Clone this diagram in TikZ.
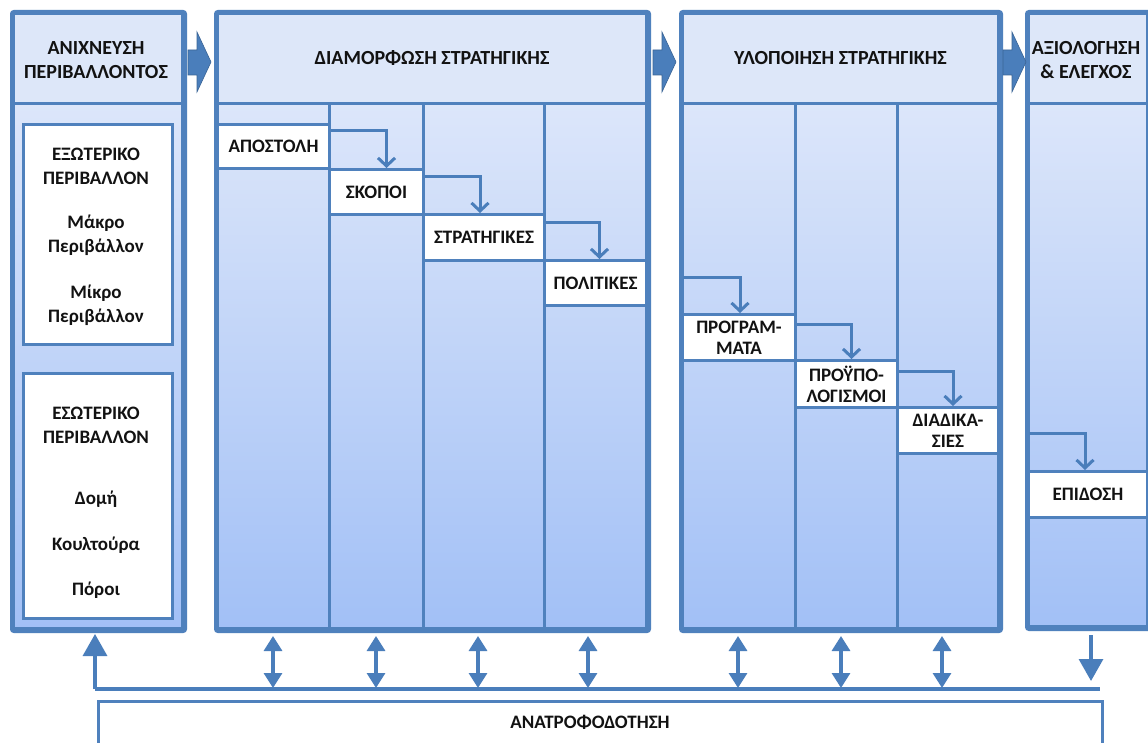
\documentclass[tikz,border=0pt]{standalone}
\usepackage{fontspec}
\setmainfont{Carlito}
\usetikzlibrary{arrows.meta,calc,shadows}
\definecolor{bord}{HTML}{4F81BD}
\definecolor{arr}{HTML}{4A7EBB}
\definecolor{hdr}{HTML}{DDE7F9}
\definecolor{topb}{HTML}{DCE6FA}
\definecolor{botb}{HTML}{A2C0F6}
\definecolor{txt}{HTML}{121212}
\begin{document}
\begin{tikzpicture}[x=1pt,y=-1pt,
  font=\fontsize{19}{24}\selectfont\bfseries, text=txt,
  hfont/.style={font=\fontsize{20}{24}\selectfont\bfseries},
  frame/.style={draw=bord, line width=4pt, rounded corners=2pt, fill=white,
    drop shadow={shadow xshift=1.5pt,shadow yshift=-2.5pt,opacity=0.3},
    anchor=north west, inner sep=0pt},
  hdrbox/.style={draw=bord, line width=3pt, fill=hdr, anchor=north west, inner sep=0pt, align=center, hfont},
  sub/.style={draw=bord, line width=3pt, top color=topb, bottom color=botb, anchor=north west, inner sep=0pt},
  box/.style={draw=bord, line width=3pt, fill=white, anchor=north west, inner sep=0pt, align=center},
  elbow/.style={draw=arr, line width=3pt, -{Straight Barb[length=8pt,width=17pt,line width=3pt]}},
  dbl/.style={draw=arr, line width=3.2pt, {Triangle[length=15pt,width=18pt]}-{Triangle[length=15pt,width=18pt]}},
  single/.style={draw=arr, line width=3.2pt, -{Triangle[length=22pt,width=24pt]}},
  blockarrow/.style={fill=arr, draw=arr!80!black, line width=0.6pt},
  outline/.style={draw=bord, line width=4pt, rounded corners=2pt}
]
\clip (0,0) rectangle (1148,743);
\useasboundingbox (0,0) rectangle (1148,743);
\fill[white] (0,0) rectangle (1148,743);

% ---------- column 1 ----------
\node[frame, minimum width=169pt, minimum height=615pt] (col1) at (12,12) {};
\node[sub, minimum width=169pt, minimum height=525pt] (c1body) at (12,102) {};
\node[hdrbox, minimum width=169pt, minimum height=90pt] (h1) at (12,12) {};
\node[hfont, align=center] (h1t) at (96,60) {ΑΝΙΧΝΕΥΣΗ\\ΠΕΡΙΒΑΛΛΟΝΤΟΣ};
\node[box, minimum width=149pt, minimum height=220pt] (ext) at (22,123) {};
\node[box, minimum width=149pt, minimum height=245pt] (int) at (22,372) {};
\node[align=center] (ext1) at (96,166) {ΕΞΩΤΕΡΙΚΟ\\ΠΕΡΙΒΑΛΛΟΝ};
\node[align=center] (ext2) at (96,235) {Μάκρο\\Περιβάλλον};
\node[align=center] (ext3) at (96,305) {Μίκρο\\Περιβάλλον};
\node[align=center] (int1) at (96,425) {ΕΣΩΤΕΡΙΚΟ\\ΠΕΡΙΒΑΛΛΟΝ};
\node (int2) at (96,499) {Δομή};
\node (int3) at (96,545) {Κουλτούρα};
\node (int4) at (96,590) {Πόροι};
\draw[outline] (col1.north west) rectangle (col1.south east);

% ---------- column 2 ----------
\node[frame, minimum width=429pt, minimum height=615pt] (col2) at (216,12) {};
\node[sub, minimum width=112pt, minimum height=525pt] (c2a) at (216,102) {};
\node[sub, minimum width=94pt, minimum height=525pt] (c2b) at (328,102) {};
\node[sub, minimum width=121pt, minimum height=525pt] (c2c) at (422,102) {};
\node[sub, minimum width=102pt, minimum height=525pt] (c2d) at (543,102) {};
\node[hdrbox, minimum width=429pt, minimum height=90pt] (h2) at (216,12) {ΔΙΑΜΟΡΦΩΣΗ ΣΤΡΑΤΗΓΙΚΗΣ};
\node[box, minimum width=112pt, minimum height=44pt] (apo) at (216,123) {ΑΠΟΣΤΟΛΗ};
\node[box, minimum width=94pt, minimum height=45pt] (sko) at (328,168) {ΣΚΟΠΟΙ};
\node[box, minimum width=121pt, minimum height=46pt] (str) at (422,213) {ΣΤΡΑΤΗΓΙΚΕΣ};
\node[box, minimum width=102pt, minimum height=45pt] (pol) at (543,259) {ΠΟΛΙΤΙΚΕΣ};
\draw[elbow] ($(apo.north east)+(0,8)$) -| ($(sko.north)+(10,0)$);
\draw[elbow] ($(sko.north east)+(0,9)$) -| ($(str.north)+(-4,0)$);
\draw[elbow] ($(str.north east)+(0,10)$) -| ($(pol.north)+(4,0)$);
\draw[outline] (col2.north west) rectangle (col2.south east);

% ---------- column 3 ----------
\node[frame, minimum width=316pt, minimum height=615pt] (col3) at (681,12) {};
\node[sub, minimum width=113pt, minimum height=525pt] (c3a) at (681,102) {};
\node[sub, minimum width=102pt, minimum height=525pt] (c3b) at (794,102) {};
\node[sub, minimum width=101pt, minimum height=525pt] (c3c) at (896,102) {};
\node[hdrbox, minimum width=316pt, minimum height=90pt] (h3) at (681,12) {ΥΛΟΠΟΙΗΣΗ ΣΤΡΑΤΗΓΙΚΗΣ};
\node[box, minimum width=113pt, minimum height=46pt] (prg) at (681,313) {ΠΡΟΓΡΑΜ-\\[-3pt]ΜΑΤΑ};
\node[box, minimum width=102pt, minimum height=47pt] (pry) at (794,359) {ΠΡΟΫΠΟ-\\[-3pt]ΛΟΓΙΣΜΟΙ};
\node[box, minimum width=101pt, minimum height=46pt] (dia) at (896,406) {ΔΙΑΔΙΚΑ-\\[-3pt]ΣΙΕΣ};
\draw[elbow] ($(c3a.north west)+(0,176)$) -| ($(prg.north)+(1,0)$);
\draw[elbow] ($(prg.north east)+(0,11)$) -| ($(pry.north)+(5,0)$);
\draw[elbow] ($(pry.north east)+(0,12)$) -| ($(dia.north)+(5,0)$);
\draw[outline] (col3.north west) rectangle (col3.south east);

% ---------- column 4 ----------
\node[frame, minimum width=119pt, minimum height=613pt] (col4) at (1027,12) {};
\node[sub, minimum width=119pt, minimum height=523pt] (c4a) at (1027,102) {};
\node[hdrbox, minimum width=119pt, minimum height=90pt] (h4) at (1027,12) {};
\node[hfont, align=center] (h4t) at (1086,60) {ΑΞΙΟΛΟΓΗΣΗ\\\&~ΕΛΕΓΧΟΣ};
\node[box, minimum width=119pt, minimum height=46pt] (epi) at (1027,470) {ΕΠΙΔΟΣΗ};
\draw[elbow] ($(c4a.north west)+(0,331)$) -| ($(epi.north)+(-3,0)$);
\draw[outline] (col4.north west) rectangle (col4.south east);

% ---------- block arrows between columns ----------
\foreach \x in {188,653,1003}{
  \path[blockarrow] (\x,50) -- ++(9,0) -- ++(0,-18) -- ++(14,30) -- ++(-14,30) -- ++(0,-17) -- ++(-9,0) -- cycle;
}

% ---------- feedback ----------
\node[draw=bord, line width=3pt, fill=white, anchor=north west, minimum width=1004pt, minimum height=80pt, inner sep=0pt] (fb) at (97,700) {};
\node (fbt) at (590,722) {ΑΝΑΤΡΟΦΟΔΟΤΗΣΗ};
\coordinate (fl) at (95,689);
\coordinate (fr) at (1100,689);
\draw[draw=arr, line width=3.5pt] (fl) -- (fr);
\coordinate (up) at (95,634);
\draw[single] (fl) -- (up);
\coordinate (dnt) at (1091,635);
\coordinate (dnb) at (1091,681);
\draw[single] (dnt) -- (dnb);
\foreach \x [count=\i] in {273,376,478,588,738,841,942}{
  \coordinate (t\i) at (\x,636);
  \coordinate (b\i) at (\x,688);
  \draw[dbl] (t\i) -- (b\i);
}
\end{tikzpicture}
\end{document}
